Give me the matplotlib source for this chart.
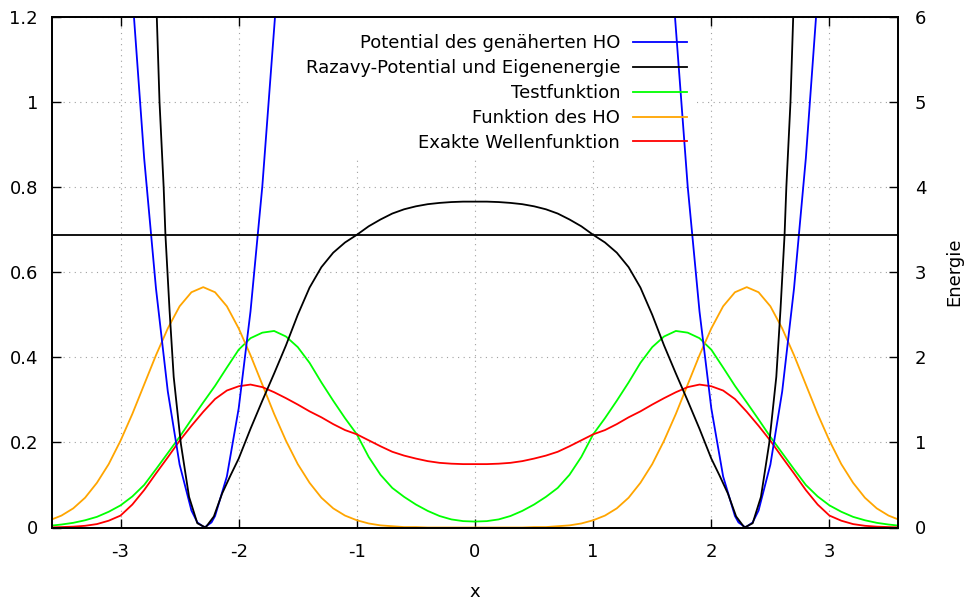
import numpy as np
import matplotlib
matplotlib.use("Agg")
import matplotlib.pyplot as plt
from matplotlib.patches import Rectangle

plt.rcParams['font.family'] = ['DejaVu Sans']
plt.rcParams['font.size'] = 13
plt.rcParams['axes.unicode_minus'] = False

# wave functions (left axis), sampled every 0.1 from -3.6 to 3.6
x = np.linspace(-3.6, 3.6, 73)

test_fn = [0.004, 0.007, 0.011, 0.017, 0.025, 0.037, 0.052, 0.073, 0.100, 0.137,
           0.175, 0.213, 0.254, 0.294, 0.333, 0.376, 0.418, 0.445, 0.458, 0.462,
           0.449, 0.424, 0.387, 0.341, 0.298, 0.257, 0.219, 0.166, 0.124, 0.093,
           0.072, 0.054, 0.039, 0.027, 0.019, 0.015, 0.014,
           0.015, 0.019, 0.027, 0.039, 0.054, 0.072, 0.093, 0.124, 0.166, 0.219,
           0.257, 0.298, 0.341, 0.387, 0.424, 0.449, 0.462, 0.458, 0.445, 0.418,
           0.376, 0.333, 0.294, 0.254, 0.213, 0.175, 0.137, 0.100, 0.073, 0.052,
           0.037, 0.025, 0.017, 0.011, 0.007, 0.004]

ho_fn = [0.017, 0.028, 0.045, 0.070, 0.105, 0.149, 0.204, 0.267, 0.336, 0.405,
         0.468, 0.520, 0.553, 0.565, 0.553, 0.520, 0.468, 0.405, 0.336, 0.267,
         0.204, 0.149, 0.105, 0.070, 0.045, 0.028, 0.017, 0.0095, 0.005, 0.003,
         0.001, 0.001, 0.0, 0.0, 0.0, 0.0, 0.0,
         0.0, 0.0, 0.0, 0.0, 0.001, 0.001, 0.003, 0.005, 0.0095, 0.017,
         0.028, 0.045, 0.070, 0.105, 0.149, 0.204, 0.267, 0.336, 0.405, 0.468,
         0.520, 0.553, 0.565, 0.553, 0.520, 0.468, 0.405, 0.336, 0.267, 0.204,
         0.149, 0.105, 0.070, 0.045, 0.028, 0.017]

exact_fn = [0.000, 0.001, 0.002, 0.004, 0.008, 0.016, 0.028, 0.054, 0.088, 0.127,
            0.165, 0.204, 0.239, 0.272, 0.302, 0.322, 0.332, 0.336, 0.330, 0.318,
            0.304, 0.289, 0.273, 0.259, 0.243, 0.229, 0.219, 0.205, 0.191, 0.178,
            0.169, 0.162, 0.156, 0.152, 0.150, 0.149, 0.149,
            0.149, 0.150, 0.152, 0.156, 0.162, 0.169, 0.178, 0.191, 0.205, 0.219,
            0.229, 0.243, 0.259, 0.273, 0.289, 0.304, 0.318, 0.330, 0.336, 0.332,
            0.322, 0.302, 0.272, 0.239, 0.204, 0.165, 0.127, 0.088, 0.054, 0.028,
            0.016, 0.008, 0.004, 0.002, 0.001, 0.000]

# potentials (right axis, Energie)
x_razavy = [-2.70, -2.67, -2.635, -2.62, -2.585, -2.55, -2.49, -2.42, -2.35, -2.28,
            -2.21, -2.14, -2.07, -2.0, -1.9, -1.8, -1.7, -1.6, -1.5, -1.4,
            -1.3, -1.2, -1.1, -1.0, -0.9, -0.8, -0.7, -0.6, -0.5, -0.4,
            -0.3, -0.2, -0.1, 0.0,
            0.1, 0.2, 0.3, 0.4, 0.5, 0.6, 0.7, 0.8, 0.9, 1.0,
            1.1, 1.2, 1.3, 1.4, 1.5, 1.6, 1.7, 1.8, 1.9, 2.0,
            2.07, 2.14, 2.21, 2.28, 2.35, 2.42, 2.49, 2.55, 2.585, 2.62,
            2.635, 2.67, 2.70]
v_razavy = [6.3, 5.0, 4.0, 3.44, 2.55, 1.77, 0.99, 0.36, 0.05, 0.0,
            0.13, 0.40, 0.61, 0.81, 1.16, 1.49, 1.81, 2.14, 2.50, 2.82,
            3.06, 3.23, 3.35, 3.44, 3.54, 3.62, 3.69, 3.74, 3.775, 3.80,
            3.815, 3.825, 3.83, 3.83,
            3.83, 3.825, 3.815, 3.80, 3.775, 3.74, 3.69, 3.62, 3.54, 3.44,
            3.35, 3.23, 3.06, 2.82, 2.50, 2.14, 1.81, 1.49, 1.16, 0.81,
            0.61, 0.40, 0.13, 0.0, 0.05, 0.36, 0.99, 1.77, 2.55, 3.44,
            4.0, 5.0, 6.3]
eigen_energy = 3.44

x_ho = [-2.93, -2.8, -2.7, -2.6, -2.5, -2.4, -2.35, -2.29, -2.23, -2.2,
        -2.1, -2.0, -1.9, -1.8, -1.67, np.nan,
        1.67, 1.8, 1.9, 2.0, 2.1, 2.2, 2.23, 2.29, 2.35, 2.4,
        2.5, 2.6, 2.7, 2.8, 2.93]
v_ho = [6.84, 4.34, 2.81, 1.60, 0.74, 0.20, 0.06, 0.0, 0.06, 0.135,
        0.60, 1.40, 2.54, 4.01, 6.42, np.nan,
        6.42, 4.01, 2.54, 1.40, 0.60, 0.135, 0.06, 0.0, 0.06, 0.20,
        0.74, 1.60, 2.81, 4.34, 6.84]

labels = ["Potential des genäherten HO", "Razavy-Potential und Eigenenergie",
          "Testfunktion", "Funktion des HO", "Exakte Wellenfunktion"]
yticks = [0, 0.2, 0.4, 0.6, 0.8, 1.0, 1.2]
ytick_labels = ["0", "0.2", "0.4", "0.6", "0.8", "1", "1.2"]

fig = plt.figure(figsize=(9.67, 6.04), dpi=100)
ax = fig.add_axes([52/967, 76.5/604, 846/967, 510.5/604])
ax2 = ax.twinx()

lw = 1.3
l_green, = ax.plot(x, test_fn, color='#00ff00', lw=lw)
l_orange, = ax.plot(x, ho_fn, color='#ffa500', lw=lw)
l_red, = ax.plot(x, exact_fn, color='#ff0000', lw=lw)

l_blue, = ax2.plot(x_ho, v_ho, color='#0000ff', lw=lw)
l_black, = ax2.plot(x_razavy, v_razavy, color='black', lw=lw)
ax2.axhline(eigen_energy, color='black', lw=lw)

ax.set_xlim(-3.58, 3.58)
ax.set_ylim(0, 1.2)
ax2.set_ylim(0, 6)

ax.set_axisbelow(True)
ax.grid(True, color='#a0a0a0', linestyle=(0, (1, 4)), lw=0.8)
# the key area hides the grid, like gnuplot
ax.add_patch(Rectangle((0.234, 0.726), 0.528, 0.274, transform=ax.transAxes,
                       facecolor='white', edgecolor='none', zorder=1))

ax.set_xticks([-3, -2, -1, 0, 1, 2, 3])
ax.set_yticks(yticks)
ax.set_yticklabels(ytick_labels)
ax2.set_yticks([0, 1, 2, 3, 4, 5, 6])
ax.tick_params(direction='in', length=6.5, width=1, top=True, right=False, pad=10)
ax.tick_params(axis='x', pad=11)
ax2.tick_params(direction='in', length=6.5, width=1, pad=12)
for a in (ax, ax2):
    for s in a.spines.values():
        s.set_linewidth(1.3)

ax.set_xlabel('x', labelpad=16)
ax2.set_ylabel('Energie', labelpad=14)

ax2.legend([l_blue, l_black, l_green, l_orange, l_red], labels,
           loc='upper right', bbox_to_anchor=(0.7506, 0.966),
           markerfirst=False, frameon=False, handlelength=3.0,
           handletextpad=0.7, labelspacing=0.38, borderpad=0, borderaxespad=0)

fig.savefig('out.png', dpi=100)
